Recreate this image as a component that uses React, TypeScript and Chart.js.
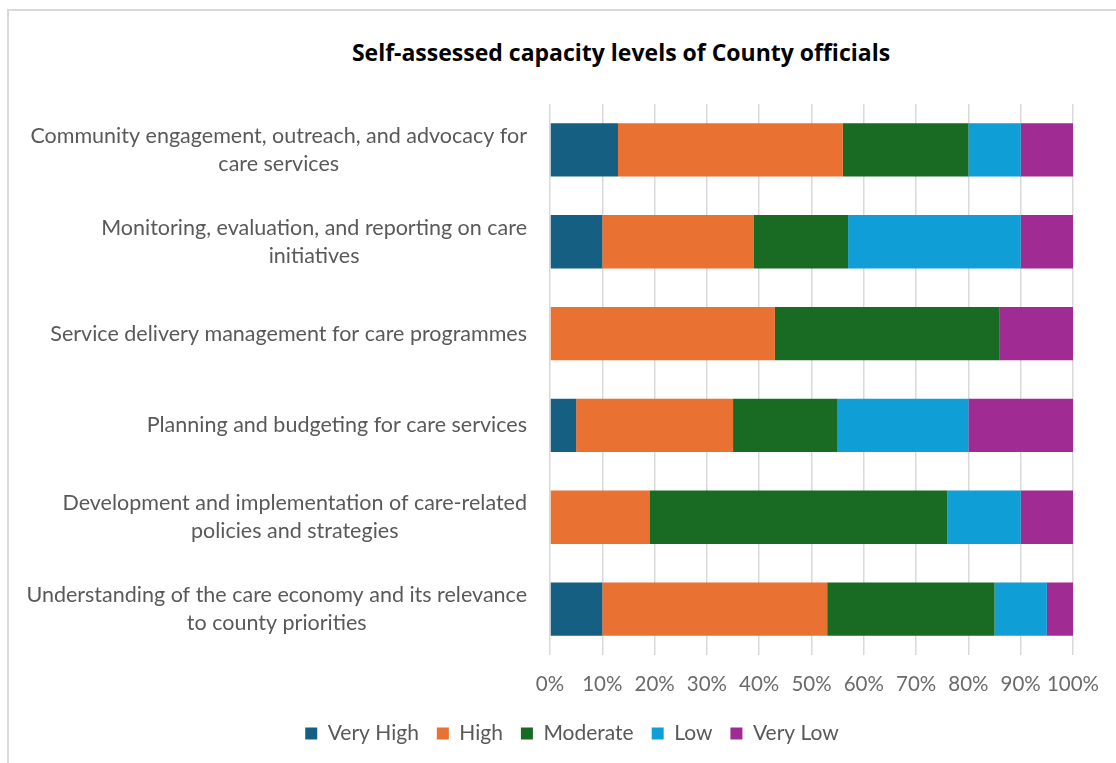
import { useEffect, useRef } from 'react';
import { Chart, registerables } from 'chart.js';

Chart.register(...registerables);

const titleText = 'Self-assessed capacity levels of County officials';

const categories: string[][] = [
  ['Community engagement, outreach, and advocacy for', 'care services'],
  ['Monitoring, evaluation, and reporting on care', 'initiatives'],
  ['Service delivery management for care programmes'],
  ['Planning and budgeting for care services'],
  ['Development and implementation of care-related', 'policies and strategies'],
  ['Understanding of the care economy and its relevance', 'to county priorities'],
];

const seriesNames = ['Very High', 'High', 'Moderate', 'Low', 'Very Low'];
const veryHigh = [13, 10, 0, 5, 0, 10];
const high = [43, 29, 43, 30, 19, 43];
const moderate = [24, 18, 43, 20, 57, 32];
const low = [10, 33, 0, 25, 14, 10];
const veryLow = [10, 10, 14, 20, 10, 5];

const xTickValues = [0, 10, 20, 30, 40, 50, 60, 70, 80, 90, 100];

const colors = ['#156082', '#E97132', '#196B24', '#0F9ED5', '#A02B93'];

const LABEL_FONT = 'Lato';
const LABEL_SIZE = 21.5;
const LABEL_LINE = 28;
const LABEL_GAP = 23;

const yLabelPlugin = {
  id: 'yLabelPlugin',
  afterDraw(chart: any) {
    const ctx = chart.ctx;
    const yScale = chart.scales.y;
    ctx.save();
    ctx.font = `${LABEL_SIZE}px ${LABEL_FONT}`;
    ctx.fillStyle = '#595959';
    ctx.textBaseline = 'middle';
    ctx.textAlign = 'center';
    const right = chart.chartArea.left - LABEL_GAP;
    categories.forEach((lines, i) => {
      const cy = yScale.getPixelForTick(i);
      const w = Math.max(...lines.map((l) => ctx.measureText(l).width));
      const cx = right - w / 2;
      lines.forEach((l, j) => {
        ctx.fillText(l, cx, cy + (j - (lines.length - 1) / 2) * LABEL_LINE);
      });
    });
    ctx.restore();
  },
};

export default function App() {
  const canvasRef = useRef<HTMLCanvasElement | null>(null);

  useEffect(() => {
    if (!canvasRef.current) return;
    const values = [veryHigh, high, moderate, low, veryLow];
    const chart = new Chart(canvasRef.current, {
      type: 'bar',
      data: {
        labels: categories.map((c) => c.join(' ')),
        datasets: seriesNames.map((name, i) => ({
          label: name,
          data: values[i],
          backgroundColor: colors[i],
          borderWidth: 0,
          categoryPercentage: 1,
          barPercentage: 0.58,
        })),
      },
      options: {
        indexAxis: 'y',
        animation: false,
        responsive: false,
        maintainAspectRatio: false,
        layout: { padding: { top: 92, left: 61, right: 61, bottom: 9 } },
        scales: {
          x: {
            stacked: true,
            min: 0,
            max: 100,
            afterBuildTicks: (scale: any) => {
              scale.ticks = xTickValues.map((v) => ({ value: v }));
            },
            afterFit: (scale: any) => {
              scale.height = 50;
            },
            ticks: {
              callback: (v: any) => `${v}%`,
              color: '#6b6b6b',
              font: { family: LABEL_FONT, size: 20.5 },
              padding: 17,
              maxRotation: 0,
              autoSkip: false,
            },
            grid: { color: '#d9d9d9', lineWidth: 1.5, drawTicks: false },
            border: { display: false },
          },
          y: {
            stacked: true,
            ticks: { display: false },
            grid: { display: false, drawTicks: false },
            border: { display: false },
            afterFit: (scale: any) => {
              scale.width = 479;
            },
          },
        },
        plugins: {
          title: { display: false },
          tooltip: { enabled: false },
          legend: {
            position: 'bottom',
            labels: {
              color: '#595959',
              font: { family: LABEL_FONT, size: 21 },
              boxWidth: 12,
              boxHeight: 12,
              padding: 18,
            },
          },
        },
      },
      plugins: [yLabelPlugin],
    } as any);
    return () => chart.destroy();
  }, []);

  return (
    <div
      style={{
        position: 'fixed',
        left: 0,
        top: 0,
        width: 1116,
        height: 763,
        overflow: 'hidden',
        background: '#ffffff',
      }}
    >
      <div
        style={{
          position: 'absolute',
          left: 7,
          top: 9,
          width: 1300,
          height: 900,
          border: '2px solid #d9d9d9',
          boxSizing: 'border-box',
        }}
      />
      <div
        style={{
          position: 'absolute',
          left: 0,
          width: 1242,
          top: 37,
          textAlign: 'center',
          fontFamily: '"Open Sans", sans-serif',
          fontWeight: 700,
          fontSize: 23,
          color: '#000000',
          lineHeight: '30px',
        }}
      >
        {titleText}
      </div>
      <canvas
        ref={canvasRef}
        width={1124}
        height={751}
        style={{ position: 'absolute', left: 10, top: 12, width: 1124, height: 751 }}
      />
    </div>
  );
}
